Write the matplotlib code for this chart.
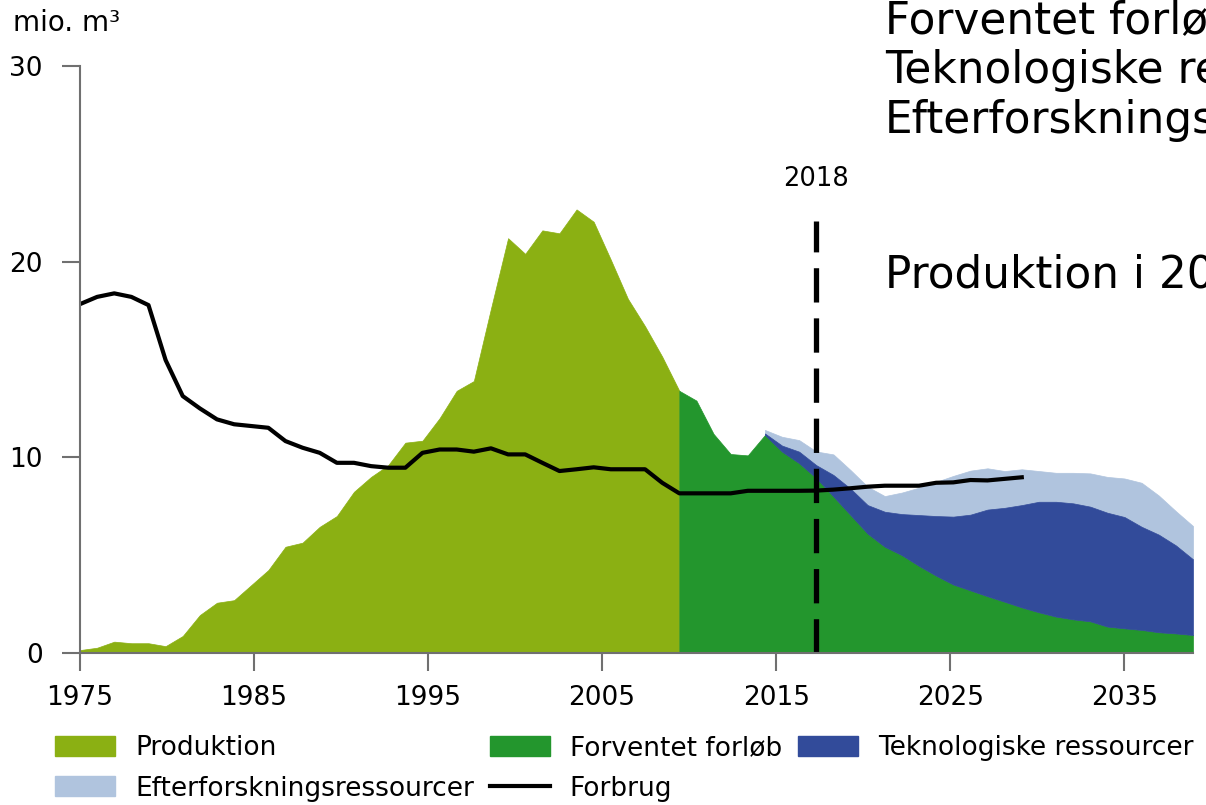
import matplotlib.pyplot as plt
import numpy as np
from matplotlib.patches import Patch
from matplotlib.lines import Line2D

# data (mio. m3)
prod_years = np.arange(1975, 2011)
produktion = [0.15, 0.27, 0.58, 0.5, 0.5, 0.35, 0.87, 1.94, 2.57, 2.7,
              3.47, 4.24, 5.43, 5.64, 6.45, 7.0, 8.24, 9.0, 9.6, 10.75,
              10.85, 12.0, 13.4, 13.9, 17.6, 21.2, 20.4, 21.6, 21.45, 22.67,
              22.04, 20.1, 18.1, 16.7, 15.15, 13.4]

fc_years = np.arange(2010, 2041)
forventet = [13.4, 12.9, 11.2, 10.17, 10.1, 11.14, 10.29, 9.7, 8.94, 8.0,
             7.05, 6.1, 5.43, 5.0, 4.45, 3.95, 3.5, 3.2, 2.9, 2.62,
             2.33, 2.08, 1.86, 1.72, 1.62, 1.35, 1.26, 1.18, 1.06, 1.0,
             0.92]

res_years = np.arange(2015, 2041)
teknologiske = [0.08, 0.31, 0.59, 0.66, 1.1, 1.35, 1.46, 1.79, 2.1, 2.6,
                3.05, 3.47, 3.87, 4.43, 4.8, 5.23, 5.65, 5.87, 5.93, 5.86,
                5.82, 5.69, 5.27, 4.99, 4.5, 3.87]
efterforskning = [0.18, 0.45, 0.59, 0.7, 1.05, 0.95, 0.94, 0.8, 1.1, 1.4,
                  1.75, 2.08, 2.25, 2.11, 1.88, 1.83, 1.57, 1.48, 1.56, 1.7,
                  1.83, 1.97, 2.25, 2.0, 1.75, 1.7]

cons_years = np.arange(1975, 2031)
forbrug = [17.83, 18.2, 18.38, 18.2, 17.78, 14.97, 13.13, 12.5, 11.94, 11.69,
           11.6, 11.51, 10.83, 10.49, 10.23, 9.72, 9.72, 9.55, 9.47, 9.47,
           10.23, 10.4, 10.4, 10.29, 10.46, 10.15, 10.15, 9.72, 9.3, 9.39,
           9.49, 9.39, 9.39, 9.39, 8.7, 8.16, 8.16, 8.16, 8.16, 8.29,
           8.29, 8.29, 8.29, 8.3, 8.35, 8.42, 8.5, 8.55, 8.55, 8.55,
           8.7, 8.72, 8.84, 8.82, 8.9, 8.98]

tick_years = [1975, 1985, 1995, 2005, 2015, 2025, 2035]
cutoff_year = 2018

C_PROD = '#8bb013'
C_FORV = '#23962d'
C_TEK = '#324b9a'
C_EFT = '#b0c4de'

plt.rcParams['font.family'] = 'DejaVu Sans'

fig = plt.figure(figsize=(12.06, 8.05), dpi=100)
ax = fig.add_axes([80/1206, 1-653/805, (1193-80)/1206, (653-66)/805])

ax.fill_between(prod_years, 0, produktion, color=C_PROD, lw=0.5)
ax.fill_between(fc_years, 0, forventet, color=C_FORV, lw=0.5)

base = np.array(forventet[5:])
top1 = base + np.array(teknologiske)
top2 = top1 + np.array(efterforskning)
ax.fill_between(res_years, top1, top2, color=C_EFT, lw=0.5)
ax.fill_between(res_years, base, top1, color=C_TEK, lw=0.5)

ax.plot(cons_years, forbrug, color='black', lw=3)

ax.plot([cutoff_year, cutoff_year], [0, 22.1], color='black', lw=3.8,
        linestyle=(0, (6.5, 3)), dash_capstyle='butt')
ax.text(cutoff_year, 24.2, str(cutoff_year), ha='center', va='center', fontsize=18.5)

ax.set_xlim(1975, 2040)
ax.set_ylim(0, 30)
# labels in the original sit on a slightly wider spacing than the data
tick_pos = 1975 + (np.array(tick_years) - 1975) * 1.0164
ax.set_xticks(tick_pos, [str(t) for t in tick_years])
ax.set_yticks([0, 10, 20, 30])
ax.tick_params(axis='both', length=13, width=1.5, color='#707070', labelsize=19)
ax.tick_params(axis='x', pad=10)
ax.tick_params(axis='y', pad=14)
for s in ['top', 'right']:
    ax.spines[s].set_visible(False)
for s in ['left', 'bottom']:
    ax.spines[s].set_color('#707070')
    ax.spines[s].set_linewidth(1.5)

fig.text(13/1206, 1-31/805, 'mio. m³', fontsize=20, va='baseline', ha='left')

big = ['Forventet forløb', 'Teknologiske ressourcer', 'Efterforskningsressourcer']
for k, t in enumerate(big):
    fig.text(885/1206, 1-(33+50*k)/805, t, fontsize=31.5, va='baseline', ha='left')
fig.text(885/1206, 1-288/805, 'Produktion i 2018', fontsize=31.5, va='baseline', ha='left')

handles = [Patch(color=C_PROD), Patch(color=C_EFT), Patch(color=C_FORV),
           Line2D([], [], color='black', lw=3), Patch(color=C_TEK)]
labels = ['Produktion', 'Efterforskningsressourcer', 'Forventet forløb',
          'Forbrug', 'Teknologiske ressourcer']
fig.legend(handles, labels, ncol=3, loc='upper left',
           bbox_to_anchor=(55/1206, 1-735/805), frameon=False, fontsize=19,
           handlelength=2.27, handleheight=0.78, handletextpad=0.76,
           columnspacing=0.6, labelspacing=0.55, borderpad=0, borderaxespad=0)

fig.savefig('out.png', dpi=100)
